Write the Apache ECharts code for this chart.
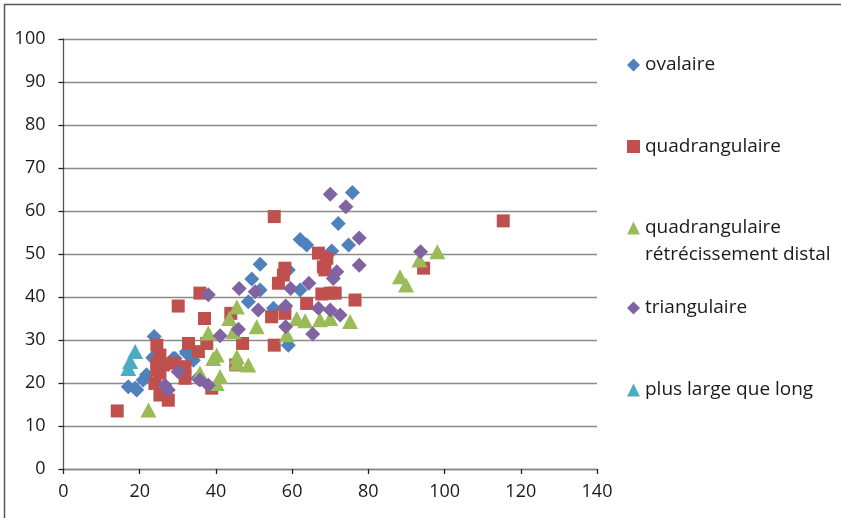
<!DOCTYPE html>
<html><head><meta charset="utf-8">
<script src="https://cdn.jsdelivr.net/npm/echarts@6/dist/echarts.min.js"></script>
<style>html,body{margin:0;padding:0;background:#fff}#c{width:841px;height:518px}</style>
</head><body><div id="c"></div>
<script>
const seriesNames = ['ovalaire','quadrangulaire','quadrangulaire\nrétrécissement distal','triangulaire','plus large que long'];
const ovalaire = [[17.0,19.1],[18.8,18.8],[19.2,18.4],[20.9,20.7],[21.8,21.9],[23.8,30.8],[23.4,25.9],[28.8,25.7],[29.3,25.7],[32.3,27.3],[32.3,26.9],[34.1,25.3],[35.2,21.1],[48.5,38.9],[49.4,44.2],[51.6,47.6],[51.6,41.6],[55.1,37.4],[59.0,46.3],[59.0,28.8],[62.1,41.6],[62.1,53.4],[63.8,52.1],[70.4,50.7],[72.1,57.1],[74.8,52.1],[75.8,64.3]];
const quadrangulaire = [[14.1,13.5],[24.5,28.8],[25.3,26.5],[24.5,24.6],[26.2,24.2],[28.8,24.6],[24.5,23.0],[25.3,22.3],[24.0,19.9],[25.3,17.2],[27.5,16.0],[31.9,23.8],[31.9,21.1],[32.8,29.2],[35.4,27.3],[37.6,29.2],[38.9,18.8],[30.1,37.9],[35.8,40.9],[37.0,35.0],[43.9,36.2],[45.2,24.2],[47.0,29.2],[54.6,35.4],[55.3,28.8],[55.3,58.7],[56.4,43.2],[57.7,45.1],[58.1,46.7],[58.1,36.2],[63.8,38.5],[66.9,50.2],[67.8,40.7],[68.2,47.0],[68.6,46.3],[69.1,49.0],[70.0,40.9],[71.3,40.9],[76.5,39.3],[94.5,46.7],[115.4,57.7]];
const quadRetreci = [[22.3,13.7],[35.8,22.3],[38.0,31.6],[40.2,26.5],[39.3,25.7],[41.1,21.5],[40.2,19.9],[43.5,35.0],[44.6,31.9],[45.5,37.7],[45.5,26.1],[45.5,24.6],[48.5,24.2],[50.7,33.1],[58.6,31.2],[61.2,35.0],[63.4,34.5],[67.3,34.7],[70.0,35.0],[75.2,34.3],[88.3,44.7],[89.9,42.8],[93.4,48.6],[98.1,50.5]];
const triangulaire = [[26.6,19.5],[27.5,18.4],[30.1,22.6],[35.8,20.7],[38.0,19.5],[38.0,40.5],[41.1,31.0],[45.9,32.5],[46.1,42.0],[50.3,41.2],[51.1,37.0],[58.3,37.9],[58.3,33.1],[59.6,42.0],[64.4,43.2],[65.4,31.4],[66.9,37.4],[70.0,37.0],[72.6,35.8],[70.8,44.3],[71.7,45.9],[70.0,63.9],[74.1,61.0],[77.6,53.7],[77.6,47.4],[93.7,50.5]];
const plusLarge = [[18.8,27.3],[17.5,25.0],[17.0,23.4]];
const xTicks = {min:0,max:140,interval:20};
const yTicks = {min:0,max:100,interval:10};

const colors = ['#4F81BD','#C0504D','#9BBB59','#8064A2','#4BACC6'];
const symbols = ['diamond','rect','triangle','diamond','triangle'];
const sizes = [[15,15],[13,13],[16,15],[15,15],[16,15]];
const datas = [ovalaire, quadrangulaire, quadRetreci, triangulaire, plusLarge];
const legendCenters = [65, 146.5, 228, 308, 390];
const LH = 27;
const font = '"Open Sans", "Noto Sans", sans-serif';

const chart = echarts.init(document.getElementById('c'), null, {renderer:'canvas'});
chart.setOption({
  animation:false,
  backgroundColor:'#fff',
  grid:{left:63.5, top:39, right:244, bottom:49, containLabel:false},
  xAxis:{type:'value', min:xTicks.min, max:xTicks.max, interval:xTicks.interval,
    axisLine:{show:true, onZero:false, lineStyle:{color:'#868686', width:1.3}},
    axisTick:{show:true, inside:false, length:5, lineStyle:{color:'#222', width:1.3}},
    splitLine:{show:false},
    axisLabel:{color:'#1a1a1a', fontSize:18, fontFamily:font, margin:14}},
  yAxis:{type:'value', min:yTicks.min, max:yTicks.max, interval:yTicks.interval,
    axisLine:{show:true, onZero:false, lineStyle:{color:'#555', width:1.3}},
    axisTick:{show:true, inside:false, length:5, lineStyle:{color:'#222', width:1.3}},
    splitLine:{show:true, lineStyle:{color:'#8a8a8a', width:1.3}},
    axisLabel:{color:'#1a1a1a', fontSize:18, fontFamily:font, margin:18}},
  legend: seriesNames.map((n,i)=>({
    data:[n], orient:'vertical', left:627,
    top: legendCenters[i] - (i===2 ? 1.5*LH : LH/2),
    itemWidth:13, itemHeight:13, itemGap:0, padding:0,
    formatter: name => (i===2 ? '\n' + name : name),
    textStyle:{fontSize:19, fontFamily:font, color:'#1a1a1a', lineHeight:LH},
    selectedMode:false
  })),
  graphic:[{type:'rect', shape:{x:4.5, y:4.5, width:900, height:700}, style:{fill:null, stroke:'#555', lineWidth:1.5}, silent:true, z:-1}],
  series: seriesNames.map((n,i)=>({
    name:n, type:'scatter', data:datas[i], symbol:symbols[i], symbolSize:sizes[i],
    itemStyle:{color:colors[i], opacity:1}
  }))
});
</script></body></html>
